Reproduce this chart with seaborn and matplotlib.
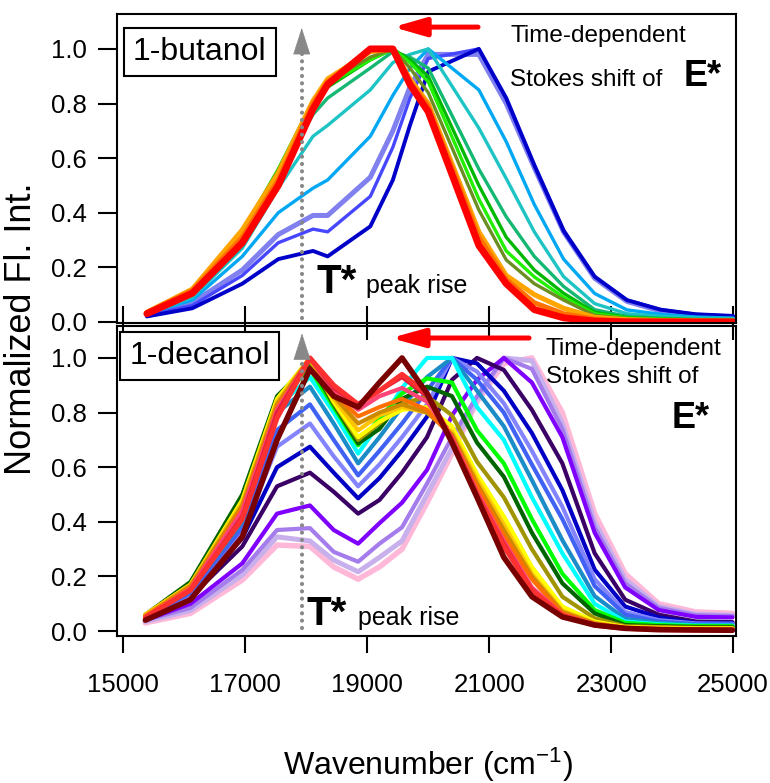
import matplotlib
matplotlib.use("Agg")
import matplotlib.pyplot as plt
import seaborn as sns

sns.set_theme(style="white")
plt.rcParams["font.family"] = ["Liberation Sans", "DejaVu Sans"]
plt.rcParams["mathtext.fontset"] = "custom"
plt.rcParams["mathtext.rm"] = "Liberation Sans"
plt.rcParams["mathtext.it"] = "Liberation Sans:italic"
plt.rcParams["mathtext.bf"] = "Liberation Sans:bold"
for key in ("text.color", "axes.labelcolor", "xtick.color", "ytick.color", "axes.edgecolor"):
    plt.rcParams[key] = "black"

# ---------------- data: 1-butanol (top panel) ----------------
wn_butanol = [15385, 16130, 16950, 17540, 18110, 18350, 19050, 19420, 19700, 20000,
              20830, 21280, 21740, 22220, 22730, 23260, 23810, 24390, 25000]
but_lightpurple = [0.03, 0.07, 0.19, 0.32, 0.39, 0.39, 0.53, 0.70, 0.86, 0.98, 0.98, 0.80, 0.565, 0.33, 0.16, 0.075, 0.04, 0.025, 0.018]
but_blue = [0.025, 0.06, 0.17, 0.29, 0.34, 0.33, 0.46, 0.64, 0.82, 0.965, 1.0, 0.815, 0.57, 0.33, 0.165, 0.08, 0.045, 0.027, 0.02]
but_darkblue = [0.02, 0.05, 0.14, 0.23, 0.26, 0.24, 0.35, 0.52, 0.72, 0.917, 1.0, 0.82, 0.575, 0.335, 0.166, 0.08, 0.045, 0.028, 0.022]
but_skyblue = [0.03, 0.08, 0.24, 0.40, 0.49, 0.52, 0.68, 0.83, 0.93, 1.0, 0.85, 0.66, 0.43, 0.23, 0.104, 0.044, 0.028, 0.018, 0.014]
but_turquoise = [0.03, 0.09, 0.27, 0.49, 0.68, 0.72, 0.85, 0.95, 0.98, 1.0, 0.71, 0.525, 0.33, 0.166, 0.067, 0.03, 0.02, 0.014, 0.012]
but_seagreen = [0.035, 0.10, 0.30, 0.53, 0.76, 0.82, 0.93, 0.99, 0.97, 0.93, 0.56, 0.385, 0.24, 0.13, 0.045, 0.02, 0.014, 0.01, 0.009]
but_green = [0.035, 0.11, 0.32, 0.55, 0.80, 0.86, 0.96, 1.0, 0.96, 0.90, 0.50, 0.31, 0.19, 0.105, 0.035, 0.016, 0.011, 0.008, 0.007]
but_lime = [0.035, 0.11, 0.33, 0.56, 0.81, 0.87, 0.96, 1.0, 0.95, 0.88, 0.45, 0.26, 0.165, 0.09, 0.03, 0.014, 0.01, 0.007, 0.006]
but_olive = [0.035, 0.11, 0.33, 0.555, 0.81, 0.88, 0.97, 1.0, 0.93, 0.84, 0.41, 0.227, 0.14, 0.08, 0.024, 0.012, 0.008, 0.006, 0.005]
but_orange = [0.035, 0.12, 0.337, 0.545, 0.81, 0.89, 0.99, 1.0, 0.89, 0.80, 0.33, 0.17, 0.10, 0.05, 0.017, 0.008, 0.005, 0.004, 0.003]
but_darkorange = [0.035, 0.115, 0.31, 0.52, 0.80, 0.88, 1.0, 1.0, 0.88, 0.79, 0.31, 0.155, 0.07, 0.03, 0.01, 0.004, 0.002, 0.002, 0.002]
but_red = [0.03, 0.105, 0.29, 0.50, 0.78, 0.87, 1.0, 1.0, 0.87, 0.77, 0.28, 0.14, 0.045, 0.015, 0.003, 0.0, 0.0, 0.0, 0.0]

# ---------------- data: 1-decanol (bottom panel) ----------------
wn_decanol = [15360, 16100, 16950, 17520, 18060, 18450, 18850, 19200, 19570, 19980,
              20390, 20800, 21240, 21700, 22200, 22730, 23230, 23780, 24390, 24990]
dec_pink = [0.03, 0.065, 0.187, 0.315, 0.31, 0.235, 0.19, 0.235, 0.30, 0.47, 0.65, 0.84, 0.98, 1.0, 0.80, 0.43, 0.21, 0.10, 0.07, 0.065]
dec_lavender = [0.035, 0.075, 0.205, 0.345, 0.33, 0.26, 0.217, 0.27, 0.33, 0.50, 0.67, 0.85, 1.0, 0.99, 0.76, 0.40, 0.19, 0.09, 0.062, 0.058]
dec_medpurple = [0.04, 0.085, 0.224, 0.37, 0.377, 0.29, 0.254, 0.32, 0.38, 0.54, 0.71, 0.86, 1.0, 0.96, 0.74, 0.38, 0.175, 0.085, 0.058, 0.055]
dec_violet = [0.04, 0.10, 0.248, 0.43, 0.46, 0.37, 0.32, 0.395, 0.47, 0.59, 0.79, 0.92, 1.0, 0.91, 0.71, 0.36, 0.16, 0.077, 0.052, 0.05]
dec_indigo = [0.045, 0.125, 0.31, 0.53, 0.58, 0.51, 0.43, 0.48, 0.58, 0.71, 0.92, 1.0, 0.956, 0.81, 0.614, 0.285, 0.115, 0.06, 0.035, 0.033]
dec_darkblue = [0.045, 0.13, 0.34, 0.60, 0.675, 0.58, 0.486, 0.56, 0.66, 0.785, 1.0, 0.98, 0.88, 0.725, 0.516, 0.225, 0.09, 0.05, 0.03, 0.03]
dec_periwinkle = [0.05, 0.13, 0.36, 0.675, 0.76, 0.64, 0.53, 0.61, 0.71, 0.83, 1.0, 0.95, 0.834, 0.66, 0.455, 0.19, 0.07, 0.04, 0.028, 0.027]
dec_blue = [0.05, 0.14, 0.38, 0.736, 0.83, 0.70, 0.57, 0.66, 0.76, 0.88, 1.0, 0.92, 0.80, 0.61, 0.41, 0.165, 0.06, 0.035, 0.025, 0.025]
dec_cerulean = [0.05, 0.15, 0.40, 0.80, 0.895, 0.76, 0.614, 0.71, 0.82, 0.93, 1.0, 0.88, 0.75, 0.553, 0.333, 0.128, 0.045, 0.03, 0.022, 0.02]
dec_cyan = [0.05, 0.15, 0.42, 0.82, 0.93, 0.80, 0.65, 0.76, 0.89, 1.0, 1.0, 0.82, 0.70, 0.49, 0.285, 0.10, 0.035, 0.025, 0.02, 0.02]
dec_lime = [0.055, 0.16, 0.45, 0.84, 0.96, 0.82, 0.68, 0.78, 0.87, 0.925, 0.91, 0.735, 0.614, 0.41, 0.21, 0.077, 0.03, 0.022, 0.018, 0.018]
dec_darkgreen = [0.06, 0.18, 0.50, 0.86, 0.98, 0.83, 0.687, 0.74, 0.85, 0.895, 0.86, 0.69, 0.565, 0.36, 0.175, 0.065, 0.022, 0.018, 0.015, 0.015]
dec_olive = [0.06, 0.17, 0.48, 0.85, 0.99, 0.835, 0.70, 0.76, 0.83, 0.86, 0.79, 0.62, 0.49, 0.30, 0.126, 0.047, 0.018, 0.015, 0.012, 0.012]
dec_yellow = [0.06, 0.17, 0.48, 0.85, 1.0, 0.84, 0.71, 0.767, 0.81, 0.82, 0.75, 0.575, 0.42, 0.235, 0.09, 0.035, 0.015, 0.012, 0.01, 0.01]
dec_gold = [0.06, 0.17, 0.47, 0.84, 1.0, 0.85, 0.735, 0.79, 0.82, 0.80, 0.73, 0.555, 0.39, 0.21, 0.075, 0.03, 0.013, 0.01, 0.008, 0.008]
dec_goldenrod = [0.055, 0.165, 0.46, 0.83, 1.0, 0.86, 0.76, 0.80, 0.83, 0.80, 0.72, 0.54, 0.37, 0.20, 0.07, 0.028, 0.012, 0.009, 0.007, 0.007]
dec_orange = [0.055, 0.16, 0.45, 0.82, 1.0, 0.87, 0.786, 0.82, 0.85, 0.81, 0.71, 0.53, 0.35, 0.19, 0.065, 0.026, 0.011, 0.008, 0.006, 0.006]
dec_hotpink = [0.05, 0.155, 0.44, 0.81, 1.0, 0.88, 0.81, 0.86, 0.89, 0.84, 0.71, 0.51, 0.33, 0.16, 0.06, 0.024, 0.01, 0.007, 0.005, 0.005]
dec_crimson = [0.05, 0.15, 0.42, 0.80, 1.0, 0.89, 0.83, 0.88, 0.93, 0.86, 0.70, 0.50, 0.32, 0.15, 0.058, 0.023, 0.01, 0.006, 0.005, 0.005]
dec_red = [0.05, 0.15, 0.41, 0.78, 1.0, 0.90, 0.83, 0.88, 0.94, 0.87, 0.70, 0.50, 0.31, 0.15, 0.057, 0.022, 0.01, 0.006, 0.004, 0.004]
dec_darkred = [0.04, 0.115, 0.345, 0.70, 0.96, 0.86, 0.82, 0.91, 1.0, 0.87, 0.69, 0.49, 0.27, 0.126, 0.052, 0.022, 0.01, 0.005, 0.004, 0.003]

xticks = [15000, 17000, 19000, 21000, 23000, 25000]
yticks = [0.0, 0.2, 0.4, 0.6, 0.8, 1.0]

# ---------------- styles (color, linewidth in pt), in drawing order ----------------
butanol_series = [
    (but_lightpurple, "#8080EE", 3.6),
    (but_blue, "#4646FF", 2.4),
    (but_darkblue, "#0000C8", 2.8),
    (but_skyblue, "#00A8F4", 2.4),
    (but_turquoise, "#1EC4C4", 2.4),
    (but_seagreen, "#14B872", 2.4),
    (but_green, "#00B800", 2.4),
    (but_lime, "#22F000", 2.4),
    (but_olive, "#6B8E23", 2.4),
    (but_orange, "#FFA500", 3.6),
    (but_darkorange, "#FF7000", 3.6),
    (but_red, "#FF0000", 5.0),
]
decanol_series = [
    (dec_pink, "#FFB8D8", 4.0),
    (dec_lavender, "#C8B0EC", 3.6),
    (dec_medpurple, "#A47CEC", 3.0),
    (dec_violet, "#7F00FF", 3.0),
    (dec_indigo, "#3A0066", 3.0),
    (dec_darkblue, "#0000C4", 3.0),
    (dec_periwinkle, "#8484FF", 3.0),
    (dec_blue, "#4062F4", 3.0),
    (dec_cerulean, "#1A8CC8", 3.0),
    (dec_cyan, "#00FFFF", 3.0),
    (dec_lime, "#00FF00", 3.0),
    (dec_darkgreen, "#006400", 3.0),
    (dec_olive, "#A09400", 3.0),
    (dec_yellow, "#FFFF00", 3.0),
    (dec_gold, "#FFC400", 3.0),
    (dec_goldenrod, "#CC8A00", 3.0),
    (dec_orange, "#FF7000", 3.0),
    (dec_hotpink, "#FF4477", 3.0),
    (dec_crimson, "#E0203C", 3.0),
    (dec_red, "#FF3030", 3.6),
    (dec_darkred, "#780000", 4.0),
]

fig = plt.figure(figsize=(7.7, 7.83), dpi=100)
fig.patch.set_facecolor("white")
W, H = 770.0, 783.0
ax1 = fig.add_axes([117 / W, 1 - 323 / H, 618.5 / W, 309 / H])
ax2 = fig.add_axes([117 / W, 1 - 636 / H, 618.5 / W, 310 / H])

for vals, col, lw in butanol_series:
    sns.lineplot(x=wn_butanol, y=vals, color=col, linewidth=lw, ax=ax1, legend=False)
for vals, col, lw in decanol_series:
    sns.lineplot(x=wn_decanol, y=vals, color=col, linewidth=lw, ax=ax2, legend=False)

for ax in (ax1, ax2):
    ax.set_facecolor("none")
    ax.set_xlim(14895, 25040)
    ax.set_xticks(xticks)
    ax.set_yticks(yticks)
    ax.set_yticklabels([f"{v:.1f}" for v in yticks])
    ax.set_xlabel("")
    ax.set_ylabel("")
    for s in ax.spines.values():
        s.set_linewidth(1.5)
        s.set_color("black")
        s.set_visible(True)
    ax.tick_params(axis="y", direction="out", length=14, width=1.5, color="black",
                   labelsize=18.5, pad=8, left=True, labelcolor="black")

ax1.set_ylim(-0.004, 1.128)
ax2.set_ylim(-0.018, 1.117)

ax1.tick_params(axis="x", direction="inout", length=25, width=1.5, color="black",
                bottom=True, labelbottom=False)
ax2.tick_params(axis="x", direction="out", length=12.5, width=1.5, color="black",
                bottom=True, labelbottom=True, labelsize=18.5, pad=14, labelcolor="black")

# ---------------- annotations ----------------
gray = "#888888"
red_arrow = "#FF0000"

def tstar(ax, arrow_x, dot_lo, dot_hi, tip, tx, ty, px):
    ax.plot([arrow_x, arrow_x], [dot_lo, dot_hi], color=gray, lw=3.0,
            linestyle=(0, (0.01, 1.75)), dash_capstyle="round", zorder=5)
    ax.annotate("", xy=(arrow_x, tip), xytext=(arrow_x, dot_hi),
                arrowprops=dict(arrowstyle="-|>,head_length=18,head_width=5.8",
                                mutation_scale=1, color=gray, lw=0.5,
                                shrinkA=0, shrinkB=0), zorder=6)
    ax.text(tx, ty, "T*", transform=ax.transAxes, fontsize=29, fontweight="bold",
            va="baseline", ha="left", zorder=7)
    ax.text(px, ty, "peak rise", transform=ax.transAxes, fontsize=18,
            va="baseline", ha="left", zorder=7)

tstar(ax1, 17925, 0.015, 0.985, 1.077, 0.3227, 0.097, 0.4026)
tstar(ax2, 17930, 0.01, 1.01, 1.09, 0.3056, 0.0355, 0.3897)

ax1.annotate("", xy=(19423, 1.08), xytext=(20817, 1.08),
             arrowprops=dict(arrowstyle="-|>,head_length=19.5,head_width=5.6",
                             mutation_scale=1, color=red_arrow, lw=3.6,
                             shrinkA=0, shrinkB=0))
ax2.annotate("", xy=(19389, 1.073), xytext=(21654, 1.073),
             arrowprops=dict(arrowstyle="-|>,head_length=20,head_width=5.6",
                             mutation_scale=1, color=red_arrow, lw=3.6,
                             shrinkA=0, shrinkB=0))

ax1.text(0.637, 0.910, "Time-dependent", transform=ax1.transAxes, fontsize=17.5,
         va="baseline", ha="left")
ax1.text(0.6354, 0.767, "Stokes shift of", transform=ax1.transAxes, fontsize=17.5,
         va="baseline", ha="left")
ax1.text(0.9156, 0.767, "E*", transform=ax1.transAxes, fontsize=26, fontweight="bold",
         va="baseline", ha="left")

ax2.text(0.6936, 0.906, "Time-dependent", transform=ax2.transAxes, fontsize=17.5,
         va="baseline", ha="left", clip_on=False)
ax2.text(0.6936, 0.815, "Stokes shift of", transform=ax2.transAxes, fontsize=17.5,
         va="baseline", ha="left")
ax2.text(0.897, 0.670, "E*", transform=ax2.transAxes, fontsize=26, fontweight="bold",
         va="baseline", ha="left")

box = dict(boxstyle="square,pad=0.28", facecolor="white", edgecolor="black", linewidth=1.5)
ax1.text(0.134, 0.877, "1-butanol", transform=ax1.transAxes, fontsize=23,
         va="center", ha="center", bbox=box, zorder=8)
ax2.text(0.1334, 0.903, "1-decanol", transform=ax2.transAxes, fontsize=23,
         va="center", ha="center", bbox=box, zorder=8)

fig.text(22 / W, 1 - 329 / H, "Normalized Fl. Int.", rotation=90, fontsize=26,
         va="center", ha="center")
fig.text(428 / W, 1 - 765 / H, "Wavenumber (cm$^{\\mathregular{-1}}$)", fontsize=23,
         va="center", ha="center")

fig.savefig("out.png", dpi=100, facecolor="white")
